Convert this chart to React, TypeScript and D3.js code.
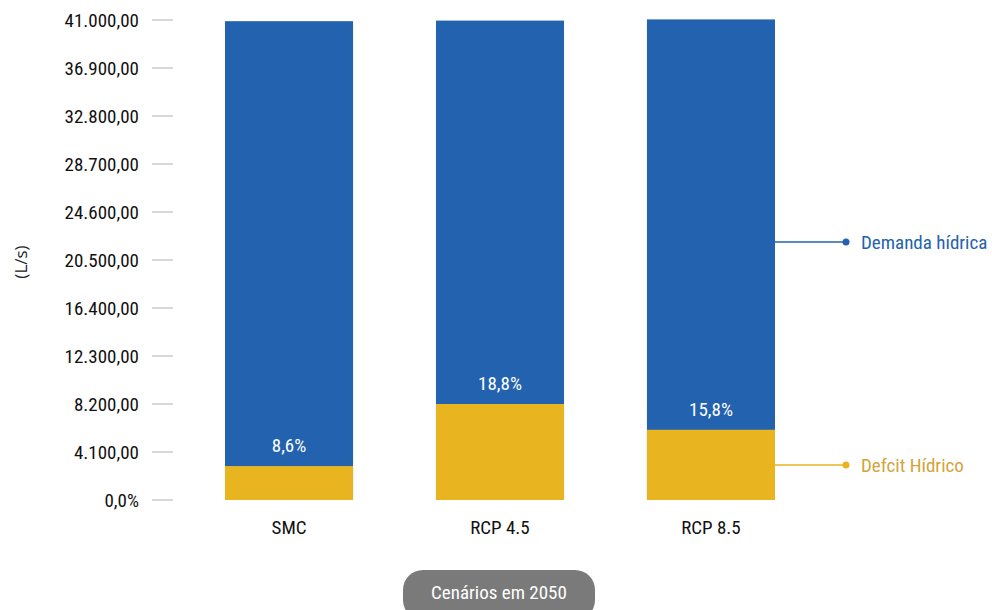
import React from "react";
import * as d3 from "d3";

const categories = ["SMC", "RCP 4.5", "RCP 8.5"];
const deficit = [2900, 8200, 6000];
const demand = [40900, 40950, 41050];
const pctLabels = ["8,6%", "18,8%", "15,8%"];
const tickValues = [0, 4100, 8200, 12300, 16400, 20500, 24600, 28700, 32800, 36900, 41000];
const tickLabels = ["0,0%", "4.100,00", "8.200,00", "12.300,00", "16.400,00", "20.500,00", "24.600,00", "28.700,00", "32.800,00", "36.900,00", "41.000,00"];
const seriesNames = ["Demanda hídrica", "Defcit Hídrico"];

const BLUE = "#2362ae";
const YELLOW = "#e8b521";
const FONT = "'Roboto Condensed', 'Liberation Sans Narrow', Roboto, sans-serif";

export default function App() {
  const W = 992, H = 610;
  const y = d3.scaleLinear().domain([0, 41000]).range([500, 20]);
  const x = d3.scaleBand().domain(categories).range([225, 775]).paddingInner(0.393).paddingOuter(0);
  const bw = x.bandwidth();
  const last = categories[categories.length - 1];
  const lastRight = (x(last) as number) + bw;
  return (
    <svg width={W} height={H} style={{ position: "absolute", left: 0, top: 0 }}>
      <rect width={W} height={H} fill="#fff" />
      {tickValues.map((t, i) => (
        <g key={t}>
          <line x1={152} x2={173} y1={y(t)} y2={y(t)} stroke="#b0b0b0" strokeWidth={1} />
          <text x={139} y={y(t)} dy="0.35em" textAnchor="end" fontFamily={FONT} fontSize={19} fill="#111">
            {tickLabels[i]}
          </text>
        </g>
      ))}
      <text transform="translate(27,262) rotate(-90)" textAnchor="middle" fontFamily="'Open Sans', sans-serif" fontSize={17} fill="#222">(L/s)</text>
      {categories.map((c, i) => {
        const bx = x(c) as number;
        return (
          <g key={c}>
            <rect x={bx} y={y(demand[i])} width={bw} height={y(0) - y(demand[i])} fill={BLUE} />
            <rect x={bx} y={y(deficit[i])} width={bw} height={y(0) - y(deficit[i])} fill={YELLOW} />
            <text x={bx + bw / 2} y={y(deficit[i]) - 14} textAnchor="middle" fontFamily={FONT} fontSize={19} fill="#fff">{pctLabels[i]}</text>
            <text x={bx + bw / 2} y={527} dy="0.35em" textAnchor="middle" fontFamily={FONT} fontSize={19} fill="#111">{c}</text>
          </g>
        );
      })}
      <line x1={lastRight} x2={846} y1={242} y2={242} stroke={BLUE} strokeWidth={1.5} />
      <circle cx={846} cy={242} r={3.5} fill={BLUE} />
      <text x={861} y={242} dy="0.35em" fontFamily={FONT} fontSize={19} fill={BLUE}>{seriesNames[0]}</text>
      <line x1={lastRight} x2={846} y1={465} y2={465} stroke={YELLOW} strokeWidth={1.5} />
      <circle cx={846} cy={465} r={3.5} fill={YELLOW} />
      <text x={861} y={465} dy="0.35em" fontFamily={FONT} fontSize={19} fill="#d2a43a">{seriesNames[1]}</text>
      <rect x={403} y={570} width={192} height={50} rx={20} fill="#7a7a7a" />
      <text x={499} y={592} dy="0.35em" textAnchor="middle" fontFamily={FONT} fontSize={19} fill="#fff">Cenários em 2050</text>
    </svg>
  );
}
